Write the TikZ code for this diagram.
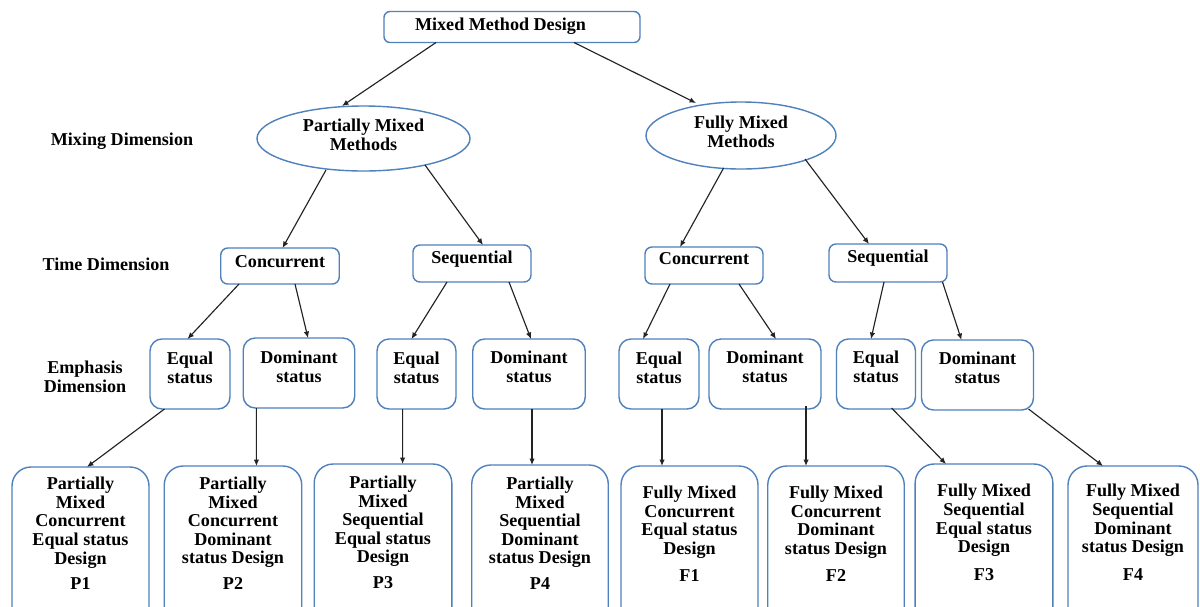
\documentclass[tikz,border=0pt]{standalone}
\usepackage{fontspec}
\setmainfont{Liberation Serif}
\usetikzlibrary{shapes.geometric,arrows.meta}
\definecolor{boxblue}{RGB}{79,129,189}
\definecolor{linkgray}{RGB}{35,35,35}

\begin{document}
\begin{tikzpicture}[x=0.02cm,y=-0.02cm,
  font=\fontsize{10.3}{10.6}\selectfont\bfseries,
  sz/.style 2 args={minimum width=#1*0.02cm, minimum height=#2*0.02cm},
  frame/.style={draw=boxblue, line width=0.8pt, fill=white, inner sep=0pt, outer sep=0pt},
  topbox/.style={frame, rectangle, rounded corners=0.12cm},
  oval/.style={frame, ellipse},
  timebox/.style={frame, rectangle, rounded corners=0.14cm},
  embox/.style={frame, rectangle, rounded corners=0.24cm},
  designbox/.style={frame, rectangle, rounded corners=0.38cm, anchor=north},
  txt/.style={inner sep=0pt, align=center},
  dtxt/.style={txt, anchor=north},
  link/.style={draw=linkgray, line width=0.65pt, -{Latex[length=0.13cm,width=0.11cm]}}
]
\useasboundingbox[fill=white] (0,0) rectangle (1200,606);
\clip (0,0) rectangle (1200,606);

% root
\node[topbox, sz={256}{31}] (top) at (512,27) {};
\node[txt] (toptxt) at (500.5,26) {Mixed Method Design};

% mixing dimension
\node[oval, sz={213}{65}] (pm) at (363.5,138.5) {};
\node[txt] (pmtxt) at (363.5,135) {Partially Mixed\\Methods};
\node[oval, sz={190}{67}] (fm) at (741,135.5) {};
\node[txt] (fmtxt) at (741,132) {Fully Mixed\\Methods};

% row labels
\node[txt] (lmix) at (122,141) {Mixing Dimension};
\node[txt] (ltime) at (106,264) {Time Dimension};
\node[txt] (lemph) at (85,377) {Emphasis\\Dimension};

% time dimension
\node[timebox, sz={118.5}{36}] (tc1) at (280,266) {};
\node[txt] (tc1t) at (280,262) {Concurrent};
\node[timebox, sz={118}{37}] (ts1) at (472,263.5) {};
\node[txt] (ts1t) at (472,259) {Sequential};
\node[timebox, sz={118}{37}] (tc2) at (704,265.5) {};
\node[txt] (tc2t) at (704,259) {Concurrent};
\node[timebox, sz={118}{38}] (ts2) at (888,263) {};
\node[txt] (ts2t) at (888,258) {Sequential};

% emphasis dimension
\node[embox, sz={80}{70}] (e1) at (190,374) {};
\node[txt] (e1t) at (190,368) {Equal\\status};
\node[embox, sz={111.5}{70}] (e2) at (299,373) {};
\node[txt] (e2t) at (299,367) {Dominant\\status};
\node[embox, sz={79}{70}] (e3) at (416.5,374) {};
\node[txt] (e3t) at (416.5,368) {Equal\\status};
\node[embox, sz={112.5}{70}] (e4) at (529,374) {};
\node[txt] (e4t) at (529,367) {Dominant\\status};
\node[embox, sz={80}{70}] (e5) at (659,374) {};
\node[txt] (e5t) at (659,368) {Equal\\status};
\node[embox, sz={112}{70}] (e6) at (765,374) {};
\node[txt] (e6t) at (765,367) {Dominant\\status};
\node[embox, sz={79}{70}] (e7) at (876,374) {};
\node[txt] (e7t) at (876,367) {Equal\\status};
\node[embox, sz={112}{70}] (e8) at (977.5,375) {};
\node[txt] (e8t) at (977.5,368) {Dominant\\status};

% resulting designs
\node[designbox, sz={137}{190}] (b1) at (80.5,467) {};
\node[dtxt] (b1t) at (80.5,476.7) {Partially\\Mixed\\Concurrent\\Equal status\\Design\\[4pt]P1};
\node[designbox, sz={137.5}{190}] (b2) at (233,466) {};
\node[dtxt] (b2t) at (233,476.5) {Partially\\Mixed\\Concurrent\\Dominant\\status Design\\[4pt]P2};
\node[designbox, sz={137.6}{190}] (b3) at (383,464) {};
\node[dtxt] (b3t) at (383,475.5) {Partially\\Mixed\\Sequential\\Equal status\\Design\\[4pt]P3};
\node[designbox, sz={136.5}{190}] (b4) at (540,465) {};
\node[dtxt] (b4t) at (540,476.5) {Partially\\Mixed\\Sequential\\Dominant\\status Design\\[4pt]P4};
\node[designbox, sz={137}{190}] (b5) at (689.5,466) {};
\node[dtxt] (b5t) at (689.5,485.5) {Fully Mixed\\Concurrent\\Equal status\\Design\\[5pt]F1};
\node[designbox, sz={136.5}{190}] (b6) at (836,466) {};
\node[dtxt] (b6t) at (836,485.5) {Fully Mixed\\Concurrent\\Dominant\\status Design\\[5pt]F2};
\node[designbox, sz={137.7}{190}] (b7) at (984,464) {};
\node[dtxt] (b7t) at (984,484) {Fully Mixed\\Sequential\\Equal status\\Design\\[5pt]F3};
\node[designbox, sz={130}{190}] (b8) at (1133,466) {};
\node[dtxt] (b8t) at (1133,484) {Fully Mixed\\Sequential\\Dominant\\status Design\\[5pt]F4};

% connectors
\draw[link] ([shift={(-76,15.5)}]top.center) -- ([shift={(-21.5,-32.5)}]pm.center);
\draw[link] ([shift={(62,15.5)}]top.center) -- ([shift={(-45,-32.5)}]fm.center);

\draw[link] ([shift={(-37.5,31.5)}]pm.center) -- ([shift={(2.5,-18)}]tc1.center);
\draw[link] ([shift={(61.5,26.5)}]pm.center) -- ([shift={(11,-18.5)}]ts1.center);
\draw[link] ([shift={(-17.4,32.5)}]fm.center) -- ([shift={(-24,-18.5)}]tc2.center);
\draw[link] ([shift={(64,23.5)}]fm.center) -- ([shift={(-19,-19)}]ts2.center);

\draw[link] ([shift={(-41,18)}]tc1.center) -- ([shift={(-2.5,-35)}]e1.center);
\draw[link] ([shift={(15,18)}]tc1.center) -- ([shift={(9,-35)}]e2.center);
\draw[link] ([shift={(-25,18.5)}]ts1.center) -- ([shift={(-5,-35)}]e3.center);
\draw[link] ([shift={(37,18.5)}]ts1.center) -- ([shift={(2,-35)}]e4.center);
\draw[link] ([shift={(-34,18.5)}]tc2.center) -- ([shift={(-16,-35)}]e5.center);
\draw[link] ([shift={(35,18.5)}]tc2.center) -- ([shift={(11,-35)}]e6.center);
\draw[link] ([shift={(-4,19)}]ts2.center) -- ([shift={(-5,-35)}]e7.center);
\draw[link] ([shift={(54.5,19)}]ts2.center) -- ([shift={(-16,-35)}]e8.center);

\draw[link] ([shift={(-25.5,35)}]e1.center) -- ([shift={(6.5,0)}]b1.north);
\draw[link] ([shift={(-42.6,35)}]e2.center) -- ([shift={(23.4,0)}]b2.north);
\draw[link] ([shift={(-13.9,35)}]e3.center) -- ([shift={(19.6,0)}]b3.north);
\draw[link] ([shift={(3,35)}]e4.center) -- ([shift={(-8,0)}]b4.north);
\draw[link] ([shift={(3,35)}]e5.center) -- ([shift={(-27.5,0)}]b5.north);
\draw[link] ([shift={(41,32)}]e6.center) -- ([shift={(-30,0)}]b6.north);
\draw[link] ([shift={(15.6,34)}]e7.center) -- ([shift={(-38,0)}]b7.north);
\draw[link] ([shift={(51,34)}]e8.center) -- ([shift={(-30,0)}]b8.north);
\end{tikzpicture}
\end{document}
